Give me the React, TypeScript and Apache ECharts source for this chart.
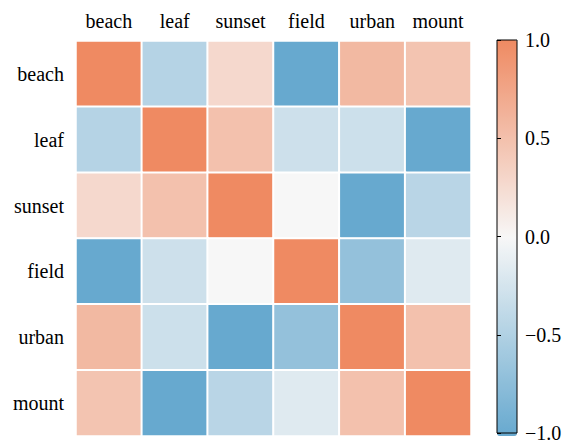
import React, { useEffect, useRef } from "react";
import * as echarts from "echarts";

const labels = ["beach", "leaf", "sunset", "field", "urban", "mount"];
const corrRows: number[][] = [
  [1.0, -0.46, 0.28, -1.0, 0.57, 0.47],
  [-0.46, 1.0, 0.5, -0.29, -0.3, -1.0],
  [0.28, 0.5, 1.0, 0.0, -1.0, -0.43],
  [-1.0, -0.29, 0.0, 1.0, -0.69, -0.17],
  [0.57, -0.3, -1.0, -0.69, 1.0, 0.5],
  [0.47, -1.0, -0.43, -0.17, 0.5, 1.0],
];
const colorStops = ["#67a9cf", "#f7f7f7", "#ef8a62"];
const cbMin = -1;
const cbMax = 1;
const cbStep = 0.5;

const FONT = "Liberation Serif";

export default function App() {
  const ref = useRef<HTMLDivElement>(null);
  useEffect(() => {
    if (!ref.current) return;
    const chart = echarts.init(ref.current, undefined, { renderer: "svg" });
    const data: [number, number, number][] = [];
    corrRows.forEach((row, i) => row.forEach((v, j) => data.push([j, i, v])));
    chart.setOption({
      animation: false,
      backgroundColor: "#ffffff",
      textStyle: { fontFamily: FONT },
      grid: [
        { left: 76, top: 41, width: 395, height: 395 },
        {
          left: 497,
          top: 40,
          width: 20,
          height: 396,
          show: true,
          borderColor: "#000",
          borderWidth: 1,
          backgroundColor: "transparent",
          z: 10,
        },
      ],
      xAxis: [
        {
          type: "category",
          data: labels,
          position: "top",
          gridIndex: 0,
          axisLine: { show: false },
          axisTick: { show: false },
          axisLabel: { interval: 0, fontSize: 20, color: "#000", margin: 10, fontFamily: FONT },
          splitLine: { show: false },
        },
        { type: "value", gridIndex: 1, show: false, min: 0, max: 1 },
      ],
      yAxis: [
        {
          type: "category",
          data: labels,
          inverse: true,
          gridIndex: 0,
          axisLine: { show: false },
          axisTick: { show: false },
          axisLabel: { interval: 0, fontSize: 20, color: "#000", margin: 12, fontFamily: FONT },
          splitLine: { show: false },
        },
        {
          type: "value",
          gridIndex: 1,
          position: "right",
          min: cbMin,
          max: cbMax,
          interval: cbStep,
          z: 10,
          axisLine: { show: false },
          axisTick: { show: true, length: 4, lineStyle: { color: "#000", width: 1 } },
          axisLabel: {
            fontSize: 20,
            color: "#000",
            margin: 8,
            fontFamily: FONT,
            formatter: (v: number) => v.toFixed(1).replace("-", "\u2212"),
          },
          splitLine: { show: false },
        },
      ],
      visualMap: {
        type: "continuous",
        min: cbMin,
        max: cbMax,
        seriesIndex: 0,
        calculable: false,
        hoverLink: false,
        left: 497,
        top: 40,
        itemWidth: 20,
        itemHeight: 396,
        padding: 0,
        inRange: { color: colorStops },
      },
      series: [
        {
          type: "heatmap",
          xAxisIndex: 0,
          yAxisIndex: 0,
          data,
          itemStyle: { borderColor: "#ffffff", borderWidth: 2 },
          emphasis: { disabled: true },
        },
      ],
    });
    return () => chart.dispose();
  }, []);
  return (
    <div
      ref={ref}
      style={{ position: "fixed", left: 0, top: 0, width: 566, height: 443 }}
    />
  );
}
